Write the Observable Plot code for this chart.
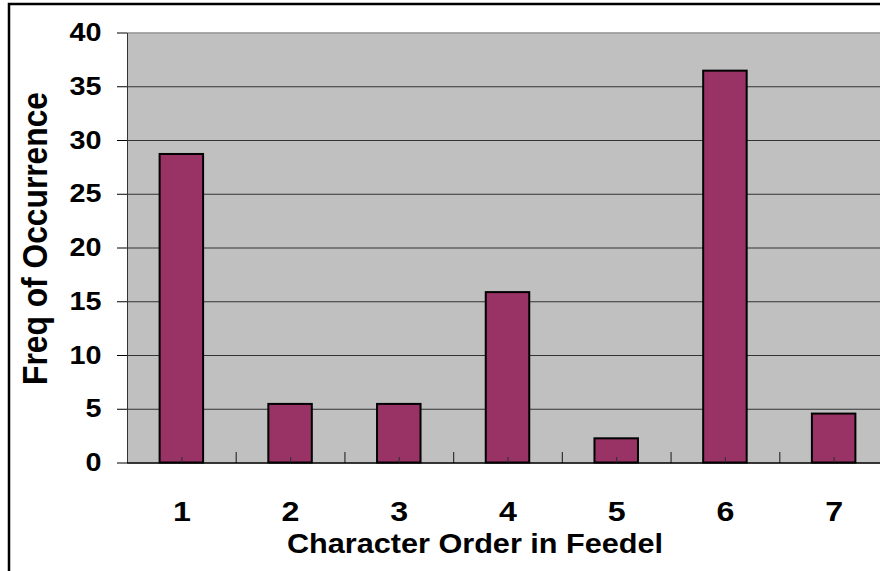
<!DOCTYPE html>
<html>
<head>
<meta charset="utf-8">
<script src="https://cdn.jsdelivr.net/npm/d3@7"></script>
<script src="https://cdn.jsdelivr.net/npm/@observablehq/plot@0.6"></script>
<style>
  html, body { margin: 0; padding: 0; background: white; }
  #chart svg { display: block; }
</style>
</head>
<body>
<div id="chart"></div>
<script>
const categories = [1, 2, 3, 4, 5, 6, 7];
const freq = [28.7, 5.45, 5.45, 15.85, 2.25, 36.45, 4.55];
const yTicks = [0, 5, 10, 15, 20, 25, 30, 35, 40];
const xTitle = "Character Order in Feedel";
const yTitle = "Freq of Occurrence";

const data = categories.map((c, i) => ({c, v: freq[i]}));
const boundaries = categories.slice(0, -1).map(c => c + 0.5);
const gridVals = yTicks.filter(t => t > 0 && t < 40);

const FONT = "'Liberation Sans', Arial, sans-serif";

const chart = Plot.plot({
  width: 880,
  height: 571,
  marginLeft: 127,
  marginRight: 0,
  marginTop: 33,
  marginBottom: 108,
  style: {background: "white", fontFamily: FONT, overflow: "visible"},
  x: {domain: [0.5, 7.5], range: [127, 888]},
  y: {domain: [0, 40], range: [462.5, 32.5]},
  marks: [
    Plot.frame({fill: "#c0c0c0", stroke: null}),
    Plot.ruleY(gridVals, {stroke: "#333333", strokeWidth: 1}),
    Plot.ruleY([40], {stroke: "#8c8c8c", strokeWidth: 1.5}),
    Plot.ruleX([0.5], {stroke: "#333333", strokeWidth: 1}),
    Plot.rectY(data, {
      x1: d => d.c - 0.2,
      x2: d => d.c + 0.2,
      y1: 0,
      y2: "v",
      fill: "#993366",
      stroke: "black",
      strokeWidth: 2
    }),
    Plot.tickX(categories, {x: d => d, stroke: "#333333", strokeWidth: 1.2, insetTop: 424}),
    Plot.tickX(boundaries, {x: d => d, stroke: "#333333", strokeWidth: 1.2, insetTop: 419}),
    Plot.ruleY([0], {stroke: "black", strokeWidth: 1.5}),
    Plot.axisY(yTicks, {
      anchor: "left",
      tickSize: 10,
      tickPadding: 16,
      fontSize: 25,
      fontWeight: "bold",
      color: "black",
      label: null
    }),
    Plot.axisX(categories, {
      anchor: "bottom",
      tickSize: 0,
      tickPadding: 38,
      fontSize: 28,
      fontWeight: "bold",
      color: "black",
      label: null
    })
  ]
});

const svg = d3.select(chart);

// horizontally stretch tick labels as in the reference
svg.selectAll("g[aria-label$='tick label'] text").each(function() {
  const t = this.getAttribute("transform") || "";
  this.setAttribute("transform", t + " scale(1.15,1)");
});

// axis titles
svg.append("text")
  .attr("transform", "translate(475,553)")
  .attr("text-anchor", "middle")
  .attr("font-family", FONT)
  .attr("font-weight", "bold")
  .attr("font-size", 28)
  .attr("textLength", 376)
  .attr("lengthAdjust", "spacingAndGlyphs")
  .attr("fill", "black")
  .text(xTitle);

svg.append("text")
  .attr("transform", "translate(47,238.5) scale(1.07,1) rotate(-90)")
  .attr("text-anchor", "middle")
  .attr("font-family", FONT)
  .attr("font-weight", "bold")
  .attr("font-size", 32)
  .attr("textLength", 293)
  .attr("lengthAdjust", "spacingAndGlyphs")
  .attr("fill", "black")
  .text(yTitle);

// outer chart border
svg.append("rect")
  .attr("x", 9)
  .attr("y", 4)
  .attr("width", 900)
  .attr("height", 620)
  .attr("fill", "none")
  .attr("stroke", "black")
  .attr("stroke-width", 2.5);

document.getElementById("chart").appendChild(chart);
</script>
</body>
</html>
